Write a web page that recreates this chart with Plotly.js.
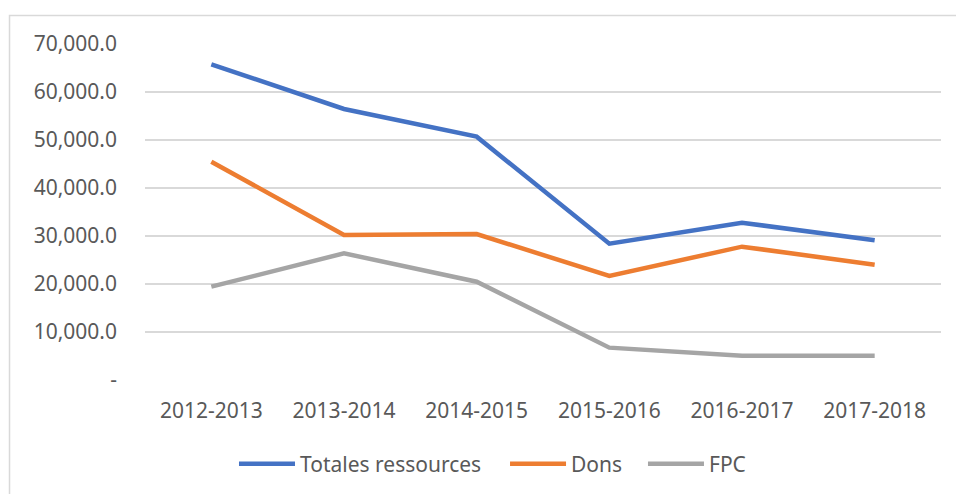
<!DOCTYPE html>
<html>
<head>
<meta charset="utf-8">
<script src="https://cdn.plot.ly/plotly-3.0.1.min.js"></script>
<style>html,body{margin:0;padding:0;background:#fff;}#chart{width:956px;height:494px;}</style>
</head>
<body>
<div id="chart"></div>
<script>
const categories = ["2012-2013", "2013-2014", "2014-2015", "2015-2016", "2016-2017", "2017-2018"];
const totalesRessources = [65770, 56460, 50700, 28400, 32770, 29100];
const dons = [45480, 30210, 30420, 21670, 27780, 24030];
const fpc = [19440, 26390, 20480, 6740, 5070, 5070];
const yTickVals = [0, 10000, 20000, 30000, 40000, 50000, 60000, 70000];
const yTickText = ["-", "10,000.0", "20,000.0", "30,000.0", "40,000.0", "50,000.0", "60,000.0", "70,000.0"];

const FONT = "Noto Sans, Liberation Sans, sans-serif";
function series(name, y, color, legendId) {
  return {type: "scatter", mode: "lines", name: name, x: categories, y: y, legend: legendId,
          line: {color: color, width: 4.5}, hoverinfo: "x+y"};
}
const data = [
  series("Totales ressources", totalesRessources, "#4472C4", "legend"),
  series("Dons", dons, "#ED7D31", "legend2"),
  series("FPC", fpc, "#A5A5A5", "legend3")
];
function legendAt(x) {
  return {orientation: "h", x: x, xanchor: "left", y: -0.25, yanchor: "middle",
          font: {family: FONT, size: 21, color: "#595959"}, itemwidth: 56,
          bgcolor: "rgba(0,0,0,0)"};
}
const layout = {
  width: 956, height: 494,
  margin: {l: 145, r: 15, t: 44, b: 114, autoexpand: false},
  paper_bgcolor: "#ffffff", plot_bgcolor: "#ffffff",
  font: {family: FONT, size: 21, color: "#595959"},
  showlegend: true,
  xaxis: {type: "category", range: [-0.5, 5.5], showgrid: false, zeroline: false,
          showline: false, ticks: "", ticklabelstandoff: 16, automargin: false,
          tickfont: {family: FONT, size: 21, color: "#595959"}},
  yaxis: {range: [0, 70000], tickvals: yTickVals, ticktext: yTickText,
          showgrid: true, gridcolor: "#D9D9D9", gridwidth: 1.5, zeroline: false,
          showline: false, ticks: "", ticklabelstandoff: 27, automargin: false,
          tickfont: {family: FONT, size: 21, color: "#595959"}},
  legend: legendAt(0.1118),
  legend2: legendAt(0.4523),
  legend3: legendAt(0.6256),
  shapes: [{type: "rect", xref: "paper", yref: "paper",
            x0: -0.1702, x1: 1.1, y0: -0.5, y1: 1.0848,
            line: {color: "#D9D9D9", width: 1.5}, fillcolor: "rgba(0,0,0,0)", layer: "below"}]
};
Plotly.newPlot("chart", data, layout, {displayModeBar: false, staticPlot: true});
</script>
</body>
</html>
